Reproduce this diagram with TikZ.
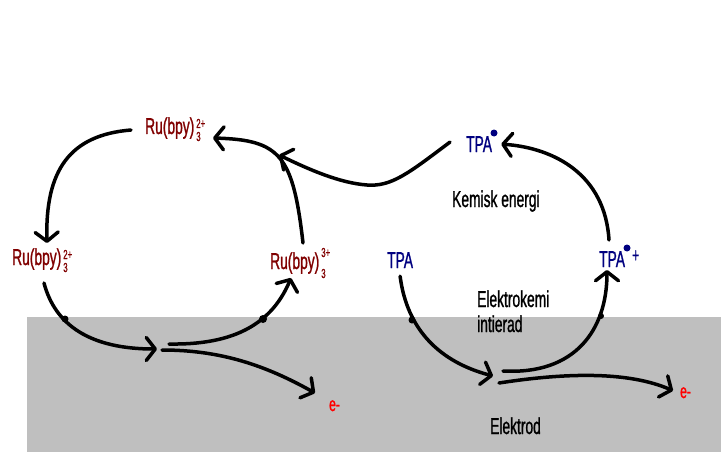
\documentclass[tikz,border=0pt]{standalone}
\usepackage{fontspec}
\setmainfont[FakeStretch=0.6,FakeBold=1]{Liberation Sans}
\usetikzlibrary{arrows.meta}
\definecolor{rudark}{HTML}{800000}
\definecolor{tpadark}{HTML}{000080}
\definecolor{elgray}{HTML}{BFBFBF}
\newcommand{\ruion}[4]{Ru(bpy)\rlap{\hspace{2pt}\raisebox{#3}{\fontsize{13}{13}\selectfont #1}}\hspace{2pt}\raisebox{#4}{\fontsize{13}{13}\selectfont #2}}
\tikzset{
    lbl/.style={anchor=base west,inner sep=0pt,font=\fontsize{23}{23}\selectfont},
    ru/.style={lbl,text=rudark},
    tpa/.style={lbl,text=tpadark},
    radical/.style={circle,fill=tpadark,inner sep=0pt,minimum size=7pt},
    elec/.style={lbl,text=red,font=\fontsize{20}{20}\selectfont},
    curve/.style={line width=3.5pt,line cap=round,-{Straight Barb[length=9pt,width=23pt,line width=3.5pt,round]}}
}
\begin{document}
\begin{tikzpicture}[x=1pt,y=-1pt]
    \useasboundingbox (0,0) rectangle (721,452);
    \fill[elgray] (27,317) rectangle (721,452);
    % labels
    \node[ru] (ruTop) at (145,134) {\ruion{3}{2+}{-7pt}{6pt}};
    \node[ru] (ruLeft) at (12,265) {\ruion{3}{2+}{-7pt}{6pt}};
    \node[ru] (ruRight) at (270,269) {\ruion{3}{3+}{-9pt}{12pt}};
    \node[tpa] (tpaTop) at (466,152) {TPA};
    \node[radical] (dotTop) at (494,133) {};
    \node[tpa] (tpaLeft) at (387,268) {TPA};
    \node[tpa] (tpaRight) at (599,267) {TPA};
    \node[radical] (dotRight) at (627,248) {};
    \node[tpa] (plusRight) at (632,262) {\fontsize{20}{20}\selectfont +};
    \node[lbl] (kemisk) at (452,207) {Kemisk energi};
    \node[lbl] (elektrokemi) at (477,307) {Elektrokemi};
    \node[lbl] (intierad) at (477,332) {intierad};
    \node[lbl] (elektrod) at (490,434) {Elektrod};
    \node[elec] (eLeft) at (329,411) {e-};
    \node[elec] (eRight) at (680,398) {e-};
    % free ends in the electrode
    \coordinate (turnLeft) at (157,349);
    \coordinate (outLeft) at (169,344);
    \coordinate (downLeft) at (162,350);
    \coordinate (turnRight) at (493,376);
    \coordinate (outRight) at (503,371);
    \coordinate (downRight) at (499,383);
    \coordinate (meet) at (279,155);
    \coordinate (lowPoint) at (367,185);
    \coordinate (ruLeftIn) at (47,243);
    \coordinate (ruLeftOut) at (44,283);
    \coordinate (ruRightIn) at (291,278);
    \coordinate (ruRightOut) at (303,243);
    \coordinate (ruTopIn) at (213,138);
    \coordinate (ruTopOut) at (131,130);
    \coordinate (tpaRightIn) at (607,270);
    \coordinate (tpaRightOut) at (609,240);
    % cycle on the left
    \draw[curve] (ruTopOut) .. controls (70,135) and (45,170) .. (ruLeftIn);
    \draw[curve] (ruLeftOut) .. controls (55,325) and (90,349) .. (turnLeft);
    \draw[curve] (outLeft) .. controls (228,345) and (270,328) .. (ruRightIn);
    \draw[curve] (downLeft) .. controls (220,350) and (265,365) .. ([xshift=-14pt,yshift=7pt]eLeft.north west);
    \draw[curve] (ruRightOut) .. controls (293,155) and (280,140) .. (ruTopIn);
    \draw[curve] ([xshift=-16pt,yshift=2pt]tpaTop.west) .. controls (410,172) and (392,187) .. (lowPoint) .. controls (340,183) and (310,170) .. (meet);
    % cycle on the right
    \draw[curve] ([yshift=-8pt]tpaLeft.south) .. controls (407,330) and (440,362) .. (turnRight);
    \draw[curve] (outRight) .. controls (575,375) and (607,330) .. (tpaRightIn);
    \draw[curve] (downRight) .. controls (570,372) and (630,372) .. ([xshift=-7pt,yshift=2pt]eRight.west);
    \draw[curve] (tpaRightOut) .. controls (605,175) and (555,148) .. ([xshift=9pt]tpaTop.east);
    % small blobs on the curves
    \fill (65,319) circle (3.5);
    \fill (263,319) circle (4);
    \fill (412,320) circle (3.5);
    \fill (601,316) circle (3);
\end{tikzpicture}
\end{document}
